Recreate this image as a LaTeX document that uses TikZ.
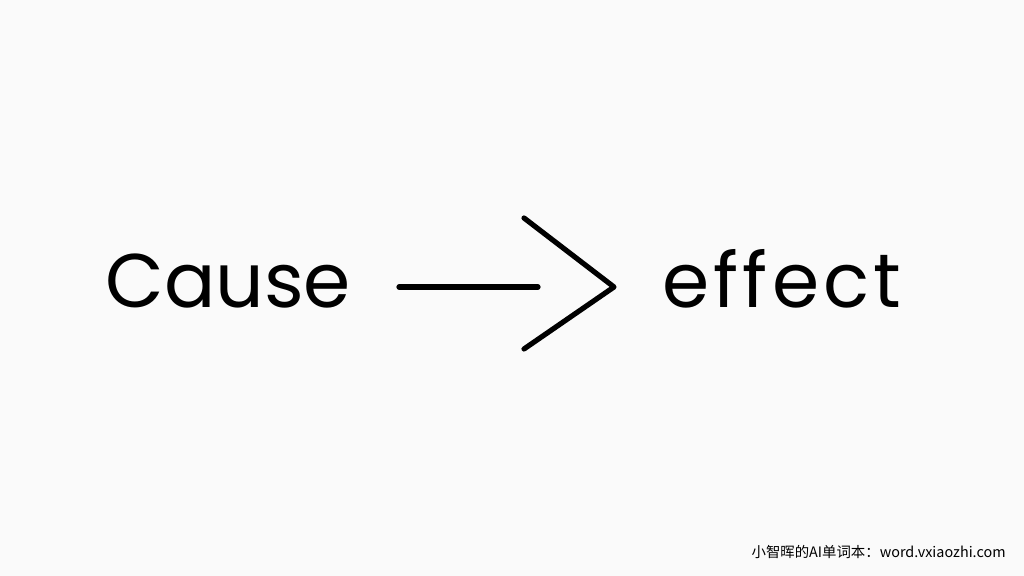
\documentclass[tikz,border=0pt]{standalone}
\usepackage{fontspec}
\setmainfont{Poppins}
\newfontfamily\cjk{Noto Sans CJK SC}
\definecolor{bgcol}{HTML}{FAFAFA}
\tikzset{word/.style={anchor=base west,inner sep=0pt,font=\fontsize{38}{44}\selectfont},
         stroke/.style={line width=2.6pt,line cap=round,line join=round}}

\begin{document}
\begin{tikzpicture}[x=0.5pt,y=0.5pt]
            \fill[bgcol] (0,0) rectangle (1024,576);
            \useasboundingbox (0,0) rectangle (1024,576);
            \node[word] (cause) at (105,268) {Cause};
            \node[word] (effect) at (662,268) {\addfontfeature{LetterSpace=5.5}effect};
            \coordinate (shaftA) at (399,289);
            \coordinate (shaftB) at (538,289);
            \coordinate (tipU) at (524,358);
            \coordinate (tip) at (614,289);
            \coordinate (tipD) at (524,227);
            \draw[stroke] (shaftA)--(shaftB);
            \draw[stroke] (tipU)--(tip)--(tipD);
            \node[anchor=east,inner sep=0pt,font=\cjk\fontsize{7.2}{9}\selectfont] (mark) at (1006,24) {小智晖的AI单词本：word.vxiaozhi.com};
        \end{tikzpicture}
\end{document}
